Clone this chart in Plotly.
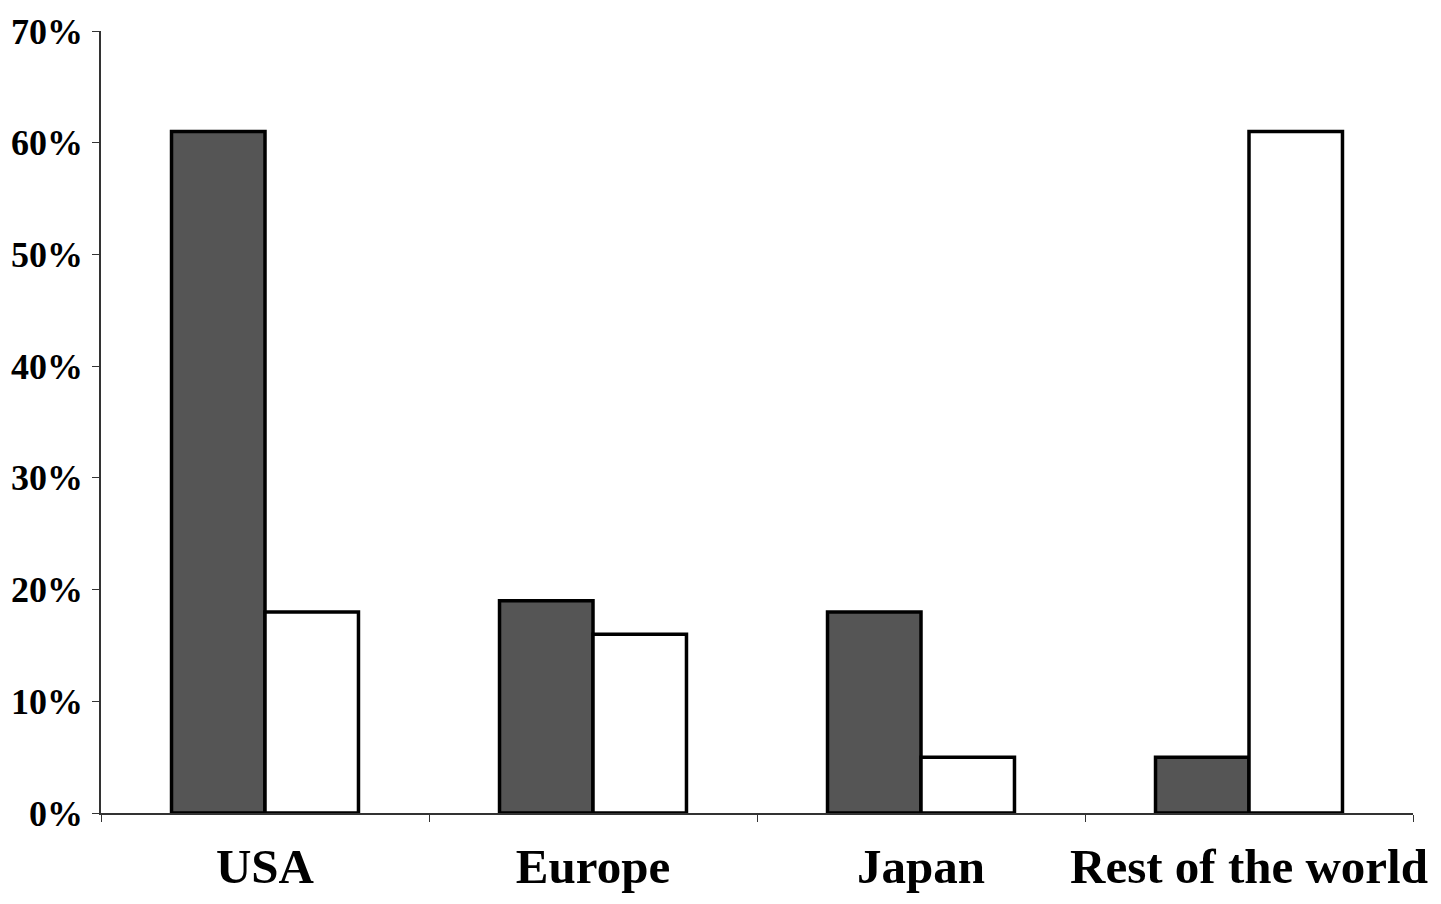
import plotly.graph_objects as go

regions = ["USA", "Europe", "Japan", "Rest of the world"]
series_a = [61, 19, 18, 5]
series_b = [18, 16, 5, 61]
y_ticks = [0, 10, 20, 30, 40, 50, 60, 70]

fig = go.Figure()

fig.add_trace(go.Bar(
    x=regions, y=series_a, name="Series A",
    marker=dict(color="#555555", line=dict(color="black", width=3.5)),
))
fig.add_trace(go.Bar(
    x=regions, y=series_b, name="Series B",
    marker=dict(color="white", line=dict(color="black", width=3.5)),
))

font = "Liberation Serif, Times New Roman, serif"

# page body has an 8px margin, so the figure is a bit smaller than the window
fig.update_layout(
    barmode="group",
    bargap=0.43,
    bargroupgap=0,
    showlegend=False,
    width=1425, height=888,
    margin=dict(l=93, r=20, t=23, b=83),
    paper_bgcolor="white",
    plot_bgcolor="white",
    font=dict(family=font, color="black"),
)

fig.update_xaxes(
    showline=True, linecolor="#333333", linewidth=1.5,
    ticks="outside", tickson="boundaries", ticklen=7, tickcolor="#333333",
    tickfont=dict(family=font, size=49, weight="bold"),
    tickangle=0, automargin=False,
    ticklabelstandoff=9,
    showgrid=False,
)
fig.update_yaxes(
    range=[0, 70],
    tickvals=y_ticks,
    ticktext=[f"{v}%" for v in y_ticks],
    showline=True, linecolor="#333333", linewidth=1.5,
    ticks="outside", ticklen=7, tickcolor="#333333",
    tickfont=dict(family=font, size=36, weight="bold"),
    automargin=False,
    ticklabelstandoff=2,
    showgrid=False, zeroline=False,
)

fig.write_html("out.html")
